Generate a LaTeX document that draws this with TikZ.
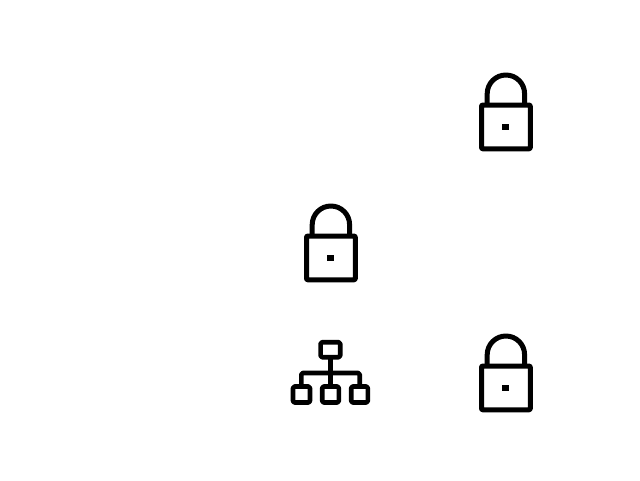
\documentclass[tikz,border=0pt]{standalone}
\tikzset{
  x=1pt,y=-1pt,
  iconline/.style={draw=black,line width=5pt,line join=round,fill=none},
  netline/.style={draw=black,line width=4.6pt,line join=round,fill=none},
  lockicon/.pic={
    \draw[iconline,rounded corners=1pt] (-24.4,-21.9) rectangle (24.4,21.9);
    \draw[iconline] (-18.7,-21.9) -- (-18.7,-33.2) arc[start angle=180,end angle=0,x radius=18.7,y radius=-18.7] -- (18.7,-21.9);
    \fill[black] (-3.5,-3.4) rectangle (3.5,3.4);
  },
}
\begin{document}
\begin{tikzpicture}
\useasboundingbox[fill=white] (0,0) rectangle (640,480);
\pic at (505.9,126.9) {lockicon};
\pic at (330.9,257.9) {lockicon};
\pic at (505.9,387.9) {lockicon};
\draw[netline,rounded corners=1.5pt] (320.6,342.2) rectangle (340.2,357.2);
\draw[netline,rounded corners=1.5pt] (293,386.5) rectangle (310,402.5);
\draw[netline,rounded corners=1.5pt] (322.2,386.5) rectangle (338.8,402.5);
\draw[netline,rounded corners=1.5pt] (351.2,386.5) rectangle (367.8,402.5);
\draw[netline] (330.3,357.2) -- (330.3,386.5);
\draw[netline,rounded corners=1.5pt] (301.3,386.5) -- (301.3,373) -- (359.7,373) -- (359.7,386.5);
\end{tikzpicture}
\end{document}
